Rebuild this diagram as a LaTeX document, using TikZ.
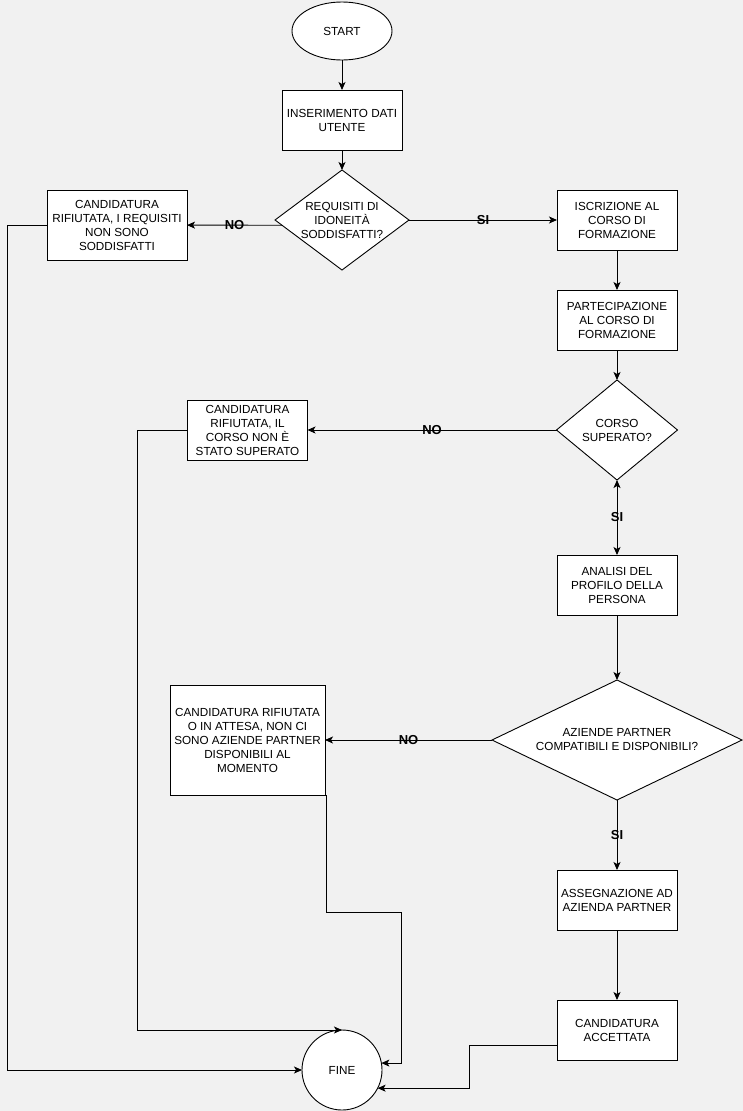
\documentclass[tikz,border=0pt]{standalone}
\usepackage{fontspec}
\setmainfont{Liberation Sans}
\usetikzlibrary{positioning,shapes.geometric,arrows.meta}

\definecolor{canvas}{HTML}{F1F1F1}
\tikzset{
	proc/.style={draw, fill=white, line width=0.9pt, outer sep=0pt, minimum width=120pt, minimum height=60pt, align=center, inner sep=2pt, font=\fontsize{11.7}{14}\selectfont},
	term/.style={ellipse, draw, fill=white, line width=0.9pt, outer sep=0pt, font=\fontsize{11.7}{14}\selectfont},
	dec/.style={diamond, draw, fill=white, line width=0.9pt, outer sep=0pt, inner sep=0pt, align=center, font=\fontsize{11.7}{14}\selectfont},
	flow/.style={-{Stealth[length=8pt,width=7pt,inset=2pt]}, line width=0.9pt},
	both/.style={{Stealth[length=8pt,width=7pt,inset=2pt]}-{Stealth[length=8pt,width=7pt,inset=2pt]}, line width=0.9pt},
	ans/.style={font=\fontsize{13}{15}\selectfont\bfseries},
}

\begin{document}
\begin{tikzpicture}[x=1pt,y=-1pt]
	\fill[canvas] (0,0) rectangle (743,1111);
	\useasboundingbox (0,0) rectangle (743,1111);

	\node[term, minimum width=100pt, minimum height=58pt] (start) at (342,31) {START};
	\node[proc, below=30pt of start] (dati) {INSERIMENTO DATI\\UTENTE};
	\node[dec, minimum width=134pt, minimum height=100pt, aspect=1.34, inner xsep=-3pt, below=20pt of dati] (requisiti) {REQUISITI DI\\IDONEITÀ\\SODDISFATTI?};
	\node[proc, minimum width=140pt, minimum height=70pt, left=88pt of requisiti, yshift=-5pt] (rifiuto1) {CANDIDATURA\\RIFIUTATA, I REQUISITI\\NON SONO\\SODDISFATTI};
	\node[proc, right=148pt of requisiti] (iscrizione) {ISCRIZIONE AL\\CORSO DI\\FORMAZIONE};
	\node[proc, below=40pt of iscrizione] (partecipazione) {PARTECIPAZIONE\\AL CORSO DI\\FORMAZIONE};
	\node[dec, minimum width=121pt, minimum height=100pt, aspect=1.21, below=30pt of partecipazione] (corso) {CORSO\\SUPERATO?};
	\node[proc, left=249pt of corso] (rifiuto2) {CANDIDATURA\\RIFIUTATA, IL\\CORSO NON È\\STATO SUPERATO};
	\node[proc, below=75pt of corso] (analisi) {ANALISI DEL\\PROFILO DELLA\\PERSONA};
	\node[dec, minimum width=250pt, minimum height=120pt, aspect=2.08, below=65pt of analisi] (aziende) {AZIENDE PARTNER\\COMPATIBILI E DISPONIBILI?};
	\node[proc, minimum width=155pt, minimum height=110pt, left=167pt of aziende] (rifiuto3) {CANDIDATURA RIFIUTATA\\O IN ATTESA, NON CI\\SONO AZIENDE PARTNER\\DISPONIBILI AL\\MOMENTO};
	\node[proc, below=70pt of aziende] (assegnazione) {ASSEGNAZIONE AD\\AZIENDA PARTNER};
	\node[proc, below=70pt of assegnazione] (accettata) {CANDIDATURA\\ACCETTATA};
	\node[term, circle, minimum size=80pt] (fine) at (342,1070) {FINE};

	\draw[flow] (start) -- (dati);
	\draw[flow] (dati) -- (requisiti);
	\draw[flow] (requisiti.185) -- node[ans] {NO} (rifiuto1);
	\draw[flow] (requisiti) -- node[ans] {SI} (iscrizione);
	\draw[flow] (iscrizione) -- (partecipazione);
	\draw[flow] (partecipazione) -- (corso);
	\draw[flow] (corso) -- node[ans] {NO} (rifiuto2);
	\draw[both] (corso) -- node[ans] {SI} (analisi);
	\draw[flow] (analisi) -- (aziende);
	\draw[flow] (aziende) -- node[ans] {NO} (rifiuto3);
	\draw[flow] (aziende) -- node[ans] {SI} (assegnazione);
	\draw[flow] (assegnazione) -- (accettata);

	\draw[flow] (rifiuto1.west) -- ++(-40,0) |- (fine);
	\draw[flow] (rifiuto2.west) -- ++(-50,0) |- (fine.north);
	\draw[flow] ([xshift=1pt]rifiuto3.south east) -- ++(0,117) -- ++(75,0) |- (fine.10);
	\draw[flow] ([yshift=-15pt]accettata.west) -- ++(-88,0) |- (fine.-27);
\end{tikzpicture}
\end{document}
